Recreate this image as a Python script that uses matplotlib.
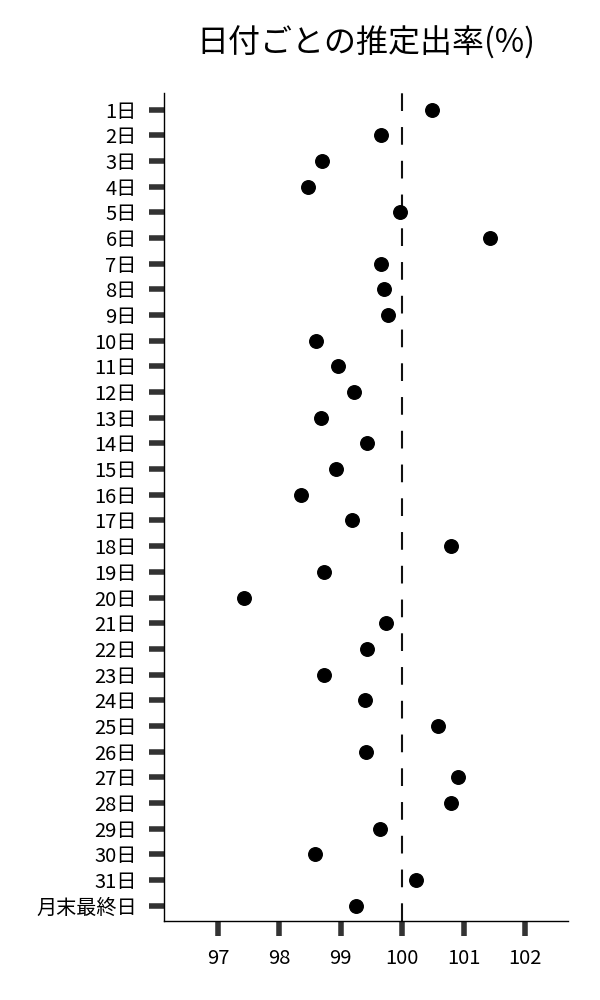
import matplotlib
matplotlib.use("Agg")
import matplotlib.pyplot as plt

plt.rcParams['font.family'] = ['Noto Sans CJK JP', 'DejaVu Sans']

days = [f"{i}日" for i in range(1, 32)] + ["月末最終日"]
rates = [100.49, 99.65, 98.70, 98.47, 99.96, 101.43, 99.65, 99.71, 99.77, 98.60,
         98.96, 99.22, 98.68, 99.42, 98.93, 98.36, 99.19, 100.80, 98.72, 97.43,
         99.74, 99.42, 98.73, 99.40, 100.58, 99.41, 100.91, 100.80, 99.63, 98.58,
         100.22, 99.25]
xticks = [97, 98, 99, 100, 101, 102]

fig = plt.figure(figsize=(6, 10), dpi=100)
ax = fig.add_axes([0.273, 0.079, 0.674, 0.828])

ypos = list(range(len(days)))
ax.scatter(rates, ypos, s=95, color='black', zorder=3)
ax.axvline(100, color='#111111', linewidth=1.5, dashes=(8.5, 7.7), zorder=2)

ax.set_yticks(ypos)
ax.set_yticklabels(days)
ax.set_xticks(xticks)
ax.set_xticklabels([str(t) for t in xticks])
ax.set_xlim(96.12, 102.70)
ax.set_ylim(len(days) - 0.4, -0.65)

for s in ['top', 'right']:
    ax.spines[s].set_visible(False)
for s in ['left', 'bottom']:
    ax.spines[s].set_linewidth(1.0)
    ax.spines[s].set_color('black')

ax.tick_params(axis='both', length=11, width=4, color='#333333', pad=8.5,
               labelsize=14.5)

fig.text(0.61, 0.957, "日付ごとの推定出率(%)", ha='center', va='center', fontsize=23)

fig.savefig("out.png", dpi=100)
